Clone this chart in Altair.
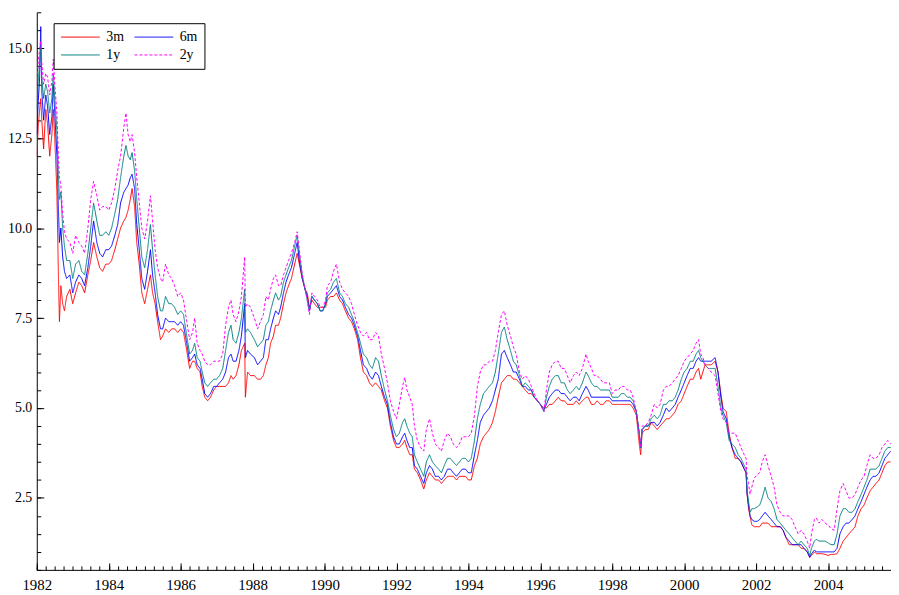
import altair as alt
import pandas as pd

# decimal year of each reading
years = [
    1982.00, 1982.04, 1982.08, 1982.11, 1982.14, 1982.19, 1982.25, 1982.30, 1982.36, 1982.42, 1982.46, 1982.50, 1982.56, 1982.60, 1982.63, 1982.67, 1982.72, 1982.77, 1982.83, 1982.92,
    1983.00, 1983.08, 1983.17, 1983.25, 1983.33, 1983.42, 1983.50, 1983.58, 1983.67, 1983.75, 1983.83, 1983.92,
    1984.00, 1984.08, 1984.17, 1984.25, 1984.33, 1984.42, 1984.48, 1984.54, 1984.60, 1984.65, 1984.72, 1984.78, 1984.85, 1984.92,
    1985.00, 1985.08, 1985.16, 1985.22, 1985.29, 1985.36, 1985.44, 1985.50, 1985.58, 1985.67, 1985.75, 1985.83, 1985.92,
    1986.00, 1986.08, 1986.17, 1986.25, 1986.33, 1986.39, 1986.46, 1986.54, 1986.60, 1986.67, 1986.75, 1986.83, 1986.92,
    1987.00, 1987.08, 1987.17, 1987.25, 1987.33, 1987.40, 1987.46, 1987.54, 1987.62, 1987.69, 1987.78, 1987.80, 1987.86, 1987.94,
    1988.05, 1988.14, 1988.22, 1988.30, 1988.37, 1988.44, 1988.50, 1988.58, 1988.64, 1988.72, 1988.78, 1988.86, 1988.93,
    1989.00, 1989.08, 1989.17, 1989.24, 1989.30, 1989.38, 1989.46, 1989.52, 1989.58, 1989.65, 1989.72, 1989.80, 1989.88, 1989.95,
    1990.03, 1990.08, 1990.17, 1990.25, 1990.33, 1990.42, 1990.50, 1990.58, 1990.67, 1990.75, 1990.83, 1990.92,
    1991.00, 1991.08, 1991.17, 1991.25, 1991.33, 1991.42, 1991.50, 1991.58, 1991.67, 1991.75, 1991.83, 1991.92,
    1992.00, 1992.08, 1992.17, 1992.23, 1992.29, 1992.37, 1992.44, 1992.50, 1992.58, 1992.67, 1992.76, 1992.83, 1992.92,
    1993.00, 1993.08, 1993.17, 1993.25, 1993.33, 1993.42, 1993.50, 1993.58, 1993.67, 1993.75, 1993.83, 1993.92,
    1994.00, 1994.08, 1994.17, 1994.25, 1994.33, 1994.42, 1994.50, 1994.58, 1994.67, 1994.75, 1994.83, 1994.92,
    1995.00, 1995.08, 1995.17, 1995.25, 1995.33, 1995.42, 1995.50, 1995.58, 1995.67, 1995.75, 1995.83, 1995.92,
    1996.00, 1996.10, 1996.17, 1996.25, 1996.33, 1996.42, 1996.50, 1996.58, 1996.67, 1996.75, 1996.83, 1996.92,
    1997.00, 1997.08, 1997.17, 1997.27, 1997.33, 1997.42, 1997.50, 1997.58, 1997.67, 1997.75, 1997.83, 1997.92,
    1998.00, 1998.08, 1998.17, 1998.25, 1998.33, 1998.42, 1998.50, 1998.58, 1998.67, 1998.75, 1998.79, 1998.83, 1998.92,
    1999.00, 1999.08, 1999.17, 1999.25, 1999.33, 1999.42, 1999.50, 1999.58, 1999.67, 1999.75, 1999.83, 1999.92,
    2000.00, 2000.08, 2000.17, 2000.25, 2000.33, 2000.40, 2000.46, 2000.52, 2000.58, 2000.67, 2000.75, 2000.86, 2000.94,
    2001.02, 2001.08, 2001.17, 2001.25, 2001.33, 2001.42, 2001.50, 2001.58, 2001.67, 2001.72, 2001.75, 2001.79, 2001.83, 2001.88, 2001.95,
    2002.03, 2002.10, 2002.17, 2002.25, 2002.33, 2002.42, 2002.50, 2002.58, 2002.67, 2002.75, 2002.83, 2002.92,
    2003.00, 2003.08, 2003.17, 2003.25, 2003.33, 2003.42, 2003.49, 2003.54, 2003.62, 2003.67, 2003.75, 2003.83, 2003.92,
    2004.00, 2004.08, 2004.17, 2004.25, 2004.33, 2004.42, 2004.50, 2004.58, 2004.67, 2004.75, 2004.83, 2004.92,
    2005.00, 2005.08, 2005.17, 2005.25, 2005.33, 2005.42, 2005.50, 2005.58, 2005.66, 2005.74,
]

r3m = [
    12.0, 12.8, 13.3, 13.6, 13.0, 12.2, 13.3, 12.9, 12.0, 12.6, 13.3, 12.5, 11.0, 8.8, 7.4, 8.4, 7.9, 7.7, 8.1, 8.3,
    7.9, 8.2, 8.5, 8.4, 8.2, 8.7, 9.1, 9.6, 9.2, 8.9, 8.8, 9.0,
    9.0, 9.1, 9.4, 9.7, 10.0, 10.2, 10.3, 10.5, 10.8, 11.1, 10.6, 9.6, 9.0, 8.2,
    7.9, 8.3, 8.7, 8.2, 7.9, 7.4, 6.9, 7.0, 7.2, 7.1, 7.2, 7.2, 7.1,
    7.2, 7.1, 6.6, 6.1, 6.3, 6.3, 6.1, 6.0, 5.6, 5.3, 5.2, 5.3, 5.5,
    5.6, 5.6, 5.6, 5.6, 5.7, 5.9, 5.8, 5.9, 6.2, 6.6, 6.8, 5.3, 6.0, 5.9,
    5.9, 5.8, 5.8, 5.9, 6.2, 6.4, 6.8, 7.0, 7.3, 7.3, 7.5, 7.9, 8.2,
    8.4, 8.6, 9.0, 9.3, 9.0, 8.6, 8.3, 8.2, 7.8, 8.0, 7.9, 7.8, 7.8, 7.8,
    7.8, 8.0, 8.1, 8.1, 8.2, 8.0, 7.9, 7.7, 7.5, 7.4, 7.2, 6.9,
    6.4, 6.0, 5.9, 5.7, 5.6, 5.7, 5.6, 5.5, 5.2, 5.0, 4.5, 4.1,
    3.9, 3.9, 4.0, 4.1, 3.9, 3.7, 3.7, 3.3, 3.2, 3.0, 2.75, 3.0, 3.2,
    3.1, 3.0, 3.0, 2.9, 3.0, 3.1, 3.1, 3.1, 3.0, 3.1, 3.1, 3.1,
    3.0, 3.0, 3.4, 3.6, 4.0, 4.2, 4.3, 4.4, 4.6, 4.9, 5.3, 5.7,
    5.8, 5.9, 5.9, 5.8, 5.8, 5.7, 5.6, 5.5, 5.4, 5.4, 5.3, 5.2,
    5.1, 5.0, 5.0, 5.1, 5.1, 5.2, 5.3, 5.2, 5.2, 5.1, 5.1, 5.1,
    5.2, 5.1, 5.2, 5.3, 5.3, 5.1, 5.1, 5.2, 5.1, 5.1, 5.2, 5.2,
    5.1, 5.1, 5.1, 5.1, 5.1, 5.1, 5.1, 5.0, 4.8, 4.0, 3.7, 4.3, 4.4,
    4.4, 4.6, 4.5, 4.4, 4.5, 4.6, 4.7, 4.7, 4.8, 4.9, 5.1, 5.2,
    5.4, 5.6, 5.8, 5.8, 6.0, 6.1, 5.8, 6.0, 6.2, 6.2, 6.2, 6.3, 6.0,
    5.4, 5.0, 4.9, 4.3, 3.9, 3.6, 3.6, 3.5, 3.3, 3.2, 2.6, 2.2, 2.0, 1.75, 1.7,
    1.7, 1.7, 1.8, 1.8, 1.8, 1.7, 1.7, 1.7, 1.7, 1.6, 1.4, 1.2,
    1.2, 1.2, 1.2, 1.1, 1.1, 1.0, 0.85, 0.9, 1.0, 0.95, 0.95, 0.95, 0.93,
    0.9, 0.93, 0.93, 0.95, 1.1, 1.3, 1.4, 1.5, 1.6, 1.7, 2.0, 2.2,
    2.3, 2.5, 2.7, 2.8, 2.9, 3.0, 3.2, 3.4, 3.5, 3.5,
]

r6m = [
    12.6, 13.5, 14.2, 15.6, 13.8, 13.0, 13.7, 13.4, 12.6, 13.1, 14.0, 13.2, 12.0, 10.6, 9.6, 10.0, 9.2, 8.8, 8.6, 8.7,
    8.2, 8.5, 8.7, 8.6, 8.4, 8.9, 9.5, 10.2, 9.6, 9.3, 9.2, 9.4,
    9.4, 9.5, 9.8, 10.1, 10.7, 11.0, 11.1, 11.2, 11.4, 11.5, 11.1, 10.1, 9.4, 8.6,
    8.3, 8.8, 9.4, 8.7, 8.2, 7.6, 7.2, 7.2, 7.5, 7.4, 7.4, 7.4, 7.3,
    7.4, 7.3, 6.8, 6.3, 6.4, 6.5, 6.2, 6.1, 5.8, 5.4, 5.3, 5.4, 5.6,
    5.6, 5.7, 5.8, 6.0, 6.4, 6.5, 6.3, 6.3, 6.6, 7.0, 7.9, 6.4, 6.6, 6.5,
    6.4, 6.2, 6.3, 6.4, 6.9, 6.9, 7.2, 7.5, 7.7, 7.6, 7.8, 8.2, 8.5,
    8.7, 8.9, 9.3, 9.6, 9.1, 8.6, 8.3, 8.1, 7.7, 8.1, 8.0, 7.9, 7.7, 7.7,
    7.9, 8.1, 8.2, 8.3, 8.4, 8.1, 8.0, 7.8, 7.6, 7.5, 7.3, 7.0,
    6.6, 6.2, 6.1, 5.9, 5.8, 6.0, 5.9, 5.6, 5.3, 5.1, 4.6, 4.2,
    4.0, 4.0, 4.2, 4.3, 4.1, 3.9, 3.9, 3.4, 3.3, 3.1, 2.9, 3.2, 3.4,
    3.3, 3.1, 3.1, 3.0, 3.1, 3.3, 3.3, 3.2, 3.1, 3.2, 3.3, 3.3,
    3.2, 3.2, 3.7, 4.1, 4.6, 4.8, 4.9, 5.0, 5.2, 5.5, 5.8, 6.5,
    6.6, 6.4, 6.2, 6.0, 6.0, 5.8, 5.6, 5.6, 5.5, 5.5, 5.3, 5.2,
    5.1, 4.95, 5.1, 5.3, 5.4, 5.5, 5.5, 5.4, 5.4, 5.3, 5.2, 5.3,
    5.3, 5.2, 5.4, 5.6, 5.5, 5.3, 5.3, 5.3, 5.3, 5.3, 5.3, 5.3,
    5.2, 5.2, 5.2, 5.2, 5.2, 5.2, 5.2, 5.1, 4.9, 4.3, 3.9, 4.4, 4.5,
    4.5, 4.6, 4.6, 4.5, 4.6, 4.8, 5.0, 4.9, 5.0, 5.1, 5.3, 5.5,
    5.7, 5.9, 6.1, 6.1, 6.3, 6.4, 6.3, 6.3, 6.3, 6.3, 6.3, 6.4, 6.0,
    5.3, 4.9, 4.7, 4.2, 3.9, 3.7, 3.6, 3.5, 3.3, 3.2, 2.6, 2.3, 2.0, 1.9, 1.85,
    1.85, 1.9, 2.0, 2.1, 2.0, 1.9, 1.8, 1.7, 1.7, 1.6, 1.4, 1.3,
    1.2, 1.2, 1.2, 1.2, 1.1, 1.0, 0.85, 0.95, 1.05, 1.0, 1.0, 1.0, 1.0,
    1.0, 1.0, 1.0, 1.1, 1.5, 1.7, 1.8, 1.8, 1.9, 2.0, 2.2, 2.4,
    2.6, 2.8, 3.0, 3.1, 3.1, 3.2, 3.4, 3.6, 3.7, 3.8,
]

r1y = [
    13.3, 14.1, 14.6, 15.0, 14.2, 13.6, 14.0, 13.8, 13.2, 13.6, 14.3, 13.6, 12.7, 11.5, 10.8, 11.0, 10.0, 9.5, 9.1, 9.1,
    8.6, 9.0, 9.1, 8.8, 8.7, 9.3, 10.0, 10.7, 10.2, 9.8, 9.8, 9.9,
    9.8, 10.0, 10.4, 10.8, 11.4, 12.0, 12.3, 12.0, 11.9, 12.1, 11.6, 10.8, 10.0, 9.2,
    8.9, 9.4, 10.1, 9.4, 8.7, 8.1, 7.7, 7.7, 8.1, 7.9, 7.9, 7.8, 7.6,
    7.7, 7.6, 7.0, 6.5, 6.6, 6.8, 6.4, 6.3, 6.0, 5.7, 5.6, 5.7, 5.8,
    5.8, 5.9, 6.1, 6.6, 7.1, 7.3, 6.9, 6.8, 7.1, 7.5, 8.3, 7.1, 7.2, 7.1,
    6.9, 6.7, 6.8, 6.9, 7.3, 7.4, 7.7, 8.0, 8.2, 8.0, 8.1, 8.5, 8.7,
    8.9, 9.1, 9.5, 9.8, 9.3, 8.7, 8.3, 8.0, 7.7, 8.1, 8.0, 7.9, 7.7, 7.7,
    7.9, 8.2, 8.3, 8.5, 8.6, 8.2, 8.1, 7.9, 7.8, 7.6, 7.4, 7.1,
    6.8, 6.5, 6.4, 6.2, 6.1, 6.4, 6.3, 5.9, 5.5, 5.2, 4.8, 4.4,
    4.2, 4.3, 4.6, 4.7, 4.5, 4.3, 4.2, 3.7, 3.5, 3.3, 3.1, 3.5, 3.7,
    3.5, 3.4, 3.3, 3.2, 3.4, 3.6, 3.6, 3.5, 3.4, 3.5, 3.6, 3.6,
    3.5, 3.6, 4.1, 4.7, 5.1, 5.4, 5.5, 5.6, 5.7, 6.0, 6.5, 7.1,
    7.25, 6.9, 6.6, 6.3, 6.2, 5.9, 5.6, 5.7, 5.6, 5.5, 5.3, 5.2,
    5.1, 4.9, 5.3, 5.6, 5.8, 5.9, 5.9, 5.7, 5.7, 5.5, 5.4, 5.5,
    5.6, 5.5, 5.7, 6.0, 5.9, 5.7, 5.6, 5.6, 5.5, 5.5, 5.5, 5.5,
    5.3, 5.3, 5.3, 5.4, 5.4, 5.3, 5.3, 5.2, 4.9, 4.3, 3.9, 4.4, 4.5,
    4.5, 4.7, 4.8, 4.7, 4.8, 5.1, 5.1, 5.2, 5.2, 5.3, 5.5, 5.8,
    6.0, 6.1, 6.3, 6.3, 6.5, 6.6, 6.4, 6.3, 6.2, 6.1, 6.1, 6.1, 5.6,
    5.0, 4.8, 4.6, 4.1, 4.0, 3.9, 3.7, 3.6, 3.4, 3.3, 2.7, 2.4, 2.1, 2.2, 2.2,
    2.25, 2.3, 2.5, 2.8, 2.5, 2.4, 2.2, 1.9, 1.8, 1.7, 1.6, 1.5,
    1.4, 1.3, 1.2, 1.3, 1.2, 1.1, 0.9, 1.1, 1.3, 1.35, 1.3, 1.3, 1.3,
    1.25, 1.2, 1.2, 1.5, 2.0, 2.2, 2.2, 2.1, 2.1, 2.2, 2.4, 2.6,
    2.8, 3.0, 3.3, 3.3, 3.3, 3.4, 3.6, 3.8, 3.9, 3.9,
]

r2y = [
    14.0, 14.6, 15.0, 15.2, 14.6, 14.0, 14.3, 14.2, 13.7, 14.1, 14.7, 14.0, 13.2, 12.0, 11.4, 11.2, 10.4, 9.9, 9.7, 9.6,
    9.3, 9.8, 9.6, 9.5, 9.3, 10.0, 10.8, 11.3, 10.9, 10.5, 10.6, 10.6,
    10.5, 10.7, 11.1, 11.6, 12.0, 12.8, 13.2, 12.6, 12.4, 12.6, 12.1, 11.4, 10.7, 10.0,
    9.7, 10.2, 10.9, 10.2, 9.4, 8.9, 8.6, 8.5, 9.0, 8.7, 8.6, 8.4, 8.1,
    8.2, 8.0, 7.4, 6.9, 7.1, 7.5, 6.8, 6.6, 6.5, 6.3, 6.2, 6.2, 6.3,
    6.3, 6.3, 6.5, 7.3, 7.8, 8.0, 7.6, 7.4, 7.7, 8.1, 9.2, 7.8, 7.9, 7.8,
    7.5, 7.2, 7.4, 7.6, 8.1, 8.0, 8.3, 8.6, 8.7, 8.4, 8.4, 8.7, 8.9,
    9.1, 9.3, 9.6, 9.9, 9.4, 8.7, 8.3, 8.0, 7.6, 8.2, 8.1, 8.0, 7.8, 7.8,
    8.0, 8.4, 8.5, 8.8, 9.0, 8.5, 8.3, 8.2, 8.1, 7.9, 7.6, 7.3,
    7.1, 7.0, 7.1, 6.9, 6.9, 7.1, 7.0, 6.5, 6.1, 5.7, 5.2, 4.9,
    4.7, 5.1, 5.6, 5.85, 5.5, 5.3, 5.1, 4.5, 4.1, 3.9, 3.8, 4.4, 4.7,
    4.3, 4.0, 3.9, 3.8, 4.1, 4.3, 4.2, 4.0, 3.9, 4.0, 4.2, 4.2,
    4.2, 4.3, 4.8, 5.6, 6.0, 6.2, 6.2, 6.3, 6.3, 6.6, 7.1, 7.6,
    7.7, 7.3, 7.0, 6.7, 6.5, 6.0, 5.8, 5.9, 5.8, 5.6, 5.4, 5.2,
    5.1, 4.9, 5.5, 6.0, 6.2, 6.3, 6.3, 6.1, 6.1, 5.9, 5.7, 5.9,
    6.0, 5.9, 6.1, 6.5, 6.3, 6.1, 5.9, 5.9, 5.8, 5.7, 5.7, 5.7,
    5.4, 5.5, 5.5, 5.6, 5.6, 5.5, 5.5, 5.3, 4.9, 4.3, 3.9, 4.5, 4.5,
    4.6, 4.8, 5.1, 5.0, 5.1, 5.5, 5.6, 5.6, 5.7, 5.8, 5.9, 6.1,
    6.3, 6.4, 6.5, 6.6, 6.8, 6.9, 6.5, 6.4, 6.2, 6.1, 6.0, 5.9, 5.4,
    4.9, 4.7, 4.6, 4.3, 4.3, 4.3, 4.1, 3.9, 3.7, 3.6, 3.1, 2.9, 2.6, 2.8, 3.05,
    3.15, 3.2, 3.5, 3.7, 3.4, 3.1, 2.8, 2.3, 2.1, 2.0, 2.0, 2.0,
    1.9, 1.7, 1.5, 1.6, 1.5, 1.3, 1.1, 1.5, 1.9, 1.95, 1.8, 1.9, 1.8,
    1.75, 1.65, 1.6, 2.2, 2.7, 2.9, 2.7, 2.5, 2.5, 2.6, 2.8, 3.0,
    3.1, 3.4, 3.7, 3.6, 3.6, 3.7, 3.9, 4.0, 4.1, 4.0,
]

series_names = ["3m", "6m", "1y", "2y"]
series_colors = {"3m": "#ff0000", "6m": "#0000ff", "1y": "#008080", "2y": "#ff00ff"}
series_dash = {"3m": [1, 0], "6m": [1, 0], "1y": [1, 0], "2y": [3, 2]}
# legend grid is filled column by column: this order gives rows "3m 6m" / "1y 2y"
legend_order = ["3m", "1y", "6m", "2y"]

major_x = list(range(1982, 2005, 2))
minor_x = [1982 + 0.25 * i for i in range(0, 96)]
major_y = [2.5, 5.0, 7.5, 10.0, 12.5, 15.0]
minor_y = [0.5 * i for i in range(1, 33)]

for s in (r3m, r6m, r1y, r2y):
    assert len(s) == len(years), (len(s), len(years))

rows = []
for name, vals in zip(series_names, [r3m, r6m, r1y, r2y]):
    for t, v in zip(years, vals):
        rows.append({"t": t, "v": v, "series": name})
df = pd.DataFrame(rows)

W, H = 861, 562
FONT = "Liberation Serif, Times New Roman, Times, serif"
xs = alt.Scale(domain=[1982, 2005.75], nice=False, zero=False)
ys = alt.Scale(domain=[0.5, 16], nice=False, zero=False)

legend = alt.Legend(
    title=None, orient="none", legendX=17, legendY=11, columns=2,
    symbolType="stroke", symbolSize=1521, symbolStrokeWidth=1, clipHeight=14,
    labelFont=FONT, labelFontSize=14, labelColor="black", labelOffset=6,
    columnPadding=10, rowPadding=4, padding=7,
    strokeColor="black", fillColor="white",
)

lines = alt.Chart(df).mark_line(strokeWidth=1, clip=True).encode(
    x=alt.X("t:Q", scale=xs, axis=alt.Axis(
        orient="bottom", values=major_x, format="d", ticks=False, tickSize=0,
        labelPadding=8, labelFont=FONT, labelFontSize=15, labelColor="black",
        labelFlush=False, grid=False, title=None, domainColor="black")),
    y=alt.Y("v:Q", scale=ys, axis=alt.Axis(
        orient="left", values=major_y, format=".1f", ticks=False, tickSize=0,
        labelPadding=5, labelFont=FONT, labelFontSize=14, labelColor="black",
        grid=False, title=None, domainColor="black")),
    color=alt.Color("series:N", scale=alt.Scale(
        domain=legend_order, range=[series_colors[k] for k in legend_order]), legend=legend),
    strokeDash=alt.StrokeDash("series:N", scale=alt.Scale(
        domain=legend_order, range=[series_dash[k] for k in legend_order]), legend=legend),
)


def tick_layer(xv, yv, size):
    return alt.Chart(df).mark_point(opacity=0).encode(
        x=alt.X("t:Q", scale=xs, axis=alt.Axis(
            orient="top", offset=-H, values=xv, tickSize=size, labels=False,
            domain=False, grid=False, title=None, tickColor="black")),
        y=alt.Y("v:Q", scale=ys, axis=alt.Axis(
            orient="right", offset=-W, values=yv, tickSize=size, labels=False,
            domain=False, grid=False, title=None, tickColor="black")),
    )


chart = alt.layer(
    lines,
    tick_layer(major_x, major_y, 7),
    tick_layer(minor_x, minor_y, 4),
).resolve_axis(x="independent", y="independent").properties(
    width=W, height=H,
    autosize=alt.AutoSizeParams(type="none"),
    padding={"left": 29, "top": 2, "right": 0, "bottom": 23},
    background="white",
).configure_view(stroke=None).configure_axis(
    labelFont=FONT
).configure_legend(labelFont=FONT)

chart.save("out.html", embed_options={"renderer": "svg", "actions": False})
